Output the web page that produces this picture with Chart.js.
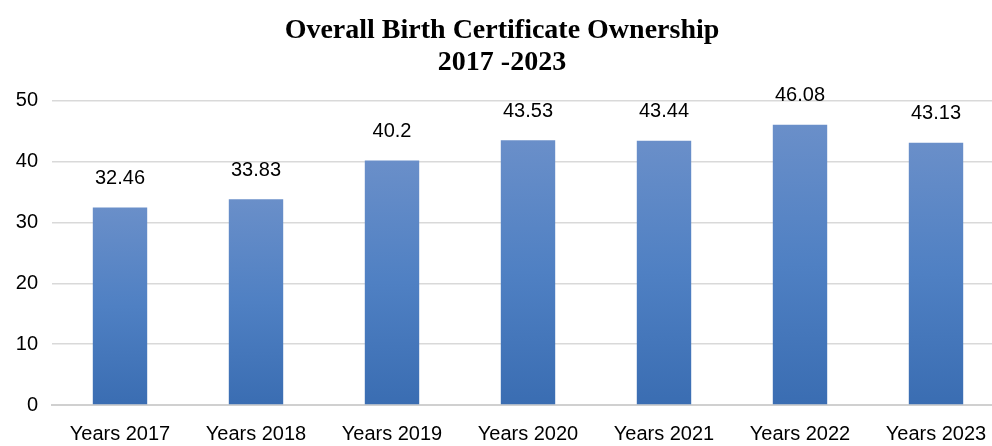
<!DOCTYPE html>
<html lang="en">
<head>
<meta charset="UTF-8">
<title>Overall Birth Certificate Ownership</title>
<script src="https://cdn.jsdelivr.net/npm/chart.js"></script>
<style>
    html, body { margin: 0; padding: 0; background: #fff; overflow: hidden; }
    #wrap { width: 1004px; height: 446px; }
</style>
</head>
<body>
<div id="wrap"><canvas id="chart"></canvas></div>
<script>
    const categories = ['Years 2017', 'Years 2018', 'Years 2019', 'Years 2020', 'Years 2021', 'Years 2022', 'Years 2023'];
    const ownership = [32.46, 33.83, 40.2, 43.53, 43.44, 46.08, 43.13];
    const valueLabels = ['32.46', '33.83', '40.2', '43.53', '43.44', '46.08', '43.13'];
    const titleLines = ['Overall Birth Certificate Ownership', '2017 -2023'];

    // bar gradient, light at top -> darker at the base
    function barFill(c) {
        const chart = c.chart;
        const y = chart.scales.y;
        if (!y || !c.parsed) return '#4f7fc1';
        const top = y.getPixelForValue(c.parsed.y);
        const bottom = y.getPixelForValue(0);
        if (!isFinite(top) || !isFinite(bottom) || top === bottom) return '#4f7fc1';
        const g = chart.ctx.createLinearGradient(0, top, 0, bottom);
        g.addColorStop(0, '#6a8fc9');
        g.addColorStop(0.5, '#4f80c3');
        g.addColorStop(1, '#3a6db2');
        return g;
    }

    const valueLabelPlugin = {
        id: 'valueLabels',
        afterDatasetsDraw(chart) {
            const ctx = chart.ctx;
            const meta = chart.getDatasetMeta(0);
            ctx.save();
            ctx.font = '20px "Liberation Sans", sans-serif';
            ctx.fillStyle = '#000';
            ctx.textAlign = 'center';
            ctx.textBaseline = 'middle';
            meta.data.forEach((bar, i) => {
                ctx.fillText(valueLabels[i], bar.x, bar.y - 29);
            });
            ctx.restore();
        }
    };

    new Chart(document.getElementById('chart'), {
        type: 'bar',
        data: {
            labels: categories,
            datasets: [{
                data: ownership,
                backgroundColor: barFill,
                borderWidth: 0,
                categoryPercentage: 1,
                barPercentage: 0.4
            }]
        },
        options: {
            responsive: true,
            maintainAspectRatio: false,
            animation: false,
            layout: { padding: 0 },
            plugins: {
                legend: { display: false },
                tooltip: { enabled: false },
                title: {
                    display: true,
                    text: titleLines,
                    color: '#000',
                    font: { family: '"Liberation Serif", serif', size: 28, weight: 'bold', lineHeight: 1.14 },
                    padding: { top: 15, bottom: 22 }
                }
            },
            scales: {
                x: {
                    grid: { display: false },
                    border: { display: true, color: '#d0d0d0', width: 2 },
                    ticks: {
                        color: '#000',
                        font: { family: '"Liberation Sans", sans-serif', size: 20 },
                        padding: 9,
                        maxRotation: 0
                    },
                    afterFit(scale) { scale.height = 41; }
                },
                y: {
                    min: 0,
                    max: 50,
                    ticks: {
                        stepSize: 10,
                        color: '#000',
                        font: { family: '"Liberation Sans", sans-serif', size: 20 },
                        padding: 14
                    },
                    grid: { color: '#d9d9d9', lineWidth: 1.5, drawTicks: false },
                    border: { display: false },
                    afterFit(scale) { scale.width = 52; }
                }
            }
        },
        plugins: [valueLabelPlugin]
    });
</script>
</body>
</html>
